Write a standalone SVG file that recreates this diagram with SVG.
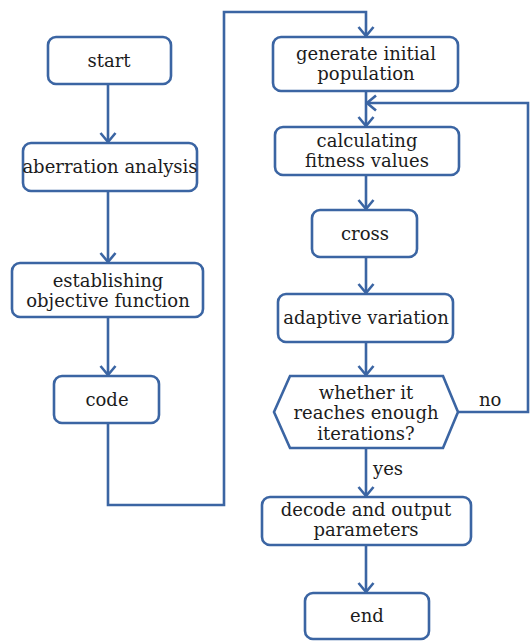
<svg xmlns="http://www.w3.org/2000/svg" width="532" height="641" viewBox="0 0 532 641">
<defs>
<style>
.box{fill:#fff;stroke:#3b65a3;stroke-width:2.6}
.ln{fill:none;stroke:#3b65a3;stroke-width:2.6}
.t{font-family:"DejaVu Serif","Liberation Serif",serif;font-size:18px;fill:#1c1c1c;text-anchor:middle}
.lbl{font-family:"DejaVu Serif","Liberation Serif",serif;font-size:18px;fill:#1c1c1c}
</style>
<marker id="ah" markerUnits="userSpaceOnUse" markerWidth="14" markerHeight="18" viewBox="0 0 14 18" refX="11" refY="9" orient="auto">
<path d="M2,1.5 L11,9 L2,16.5" fill="none" stroke="#3b65a3" stroke-width="2.6"/>
</marker>
</defs>
<rect width="532" height="641" fill="#fff"/>
<g id="connectors">
<line class="ln" x1="108" y1="84" x2="108" y2="142" marker-end="url(#ah)"/>
<line class="ln" x1="108" y1="191" x2="108" y2="262" marker-end="url(#ah)"/>
<line class="ln" x1="108" y1="317" x2="108" y2="375" marker-end="url(#ah)"/>
<path class="ln" d="M108,423 V505 H224 V12 H366 V36" marker-end="url(#ah)"/>
<line class="ln" x1="366" y1="91" x2="366" y2="126" marker-end="url(#ah)"/>
<path class="ln" d="M458,412 H528 V103 H367" marker-end="url(#ah)"/>
<line class="ln" x1="366" y1="175" x2="366" y2="209" marker-end="url(#ah)"/>
<line class="ln" x1="366" y1="257" x2="366" y2="293" marker-end="url(#ah)"/>
<line class="ln" x1="366" y1="342" x2="366" y2="375" marker-end="url(#ah)"/>
<line class="ln" x1="366" y1="448" x2="366" y2="496" marker-end="url(#ah)"/>
<line class="ln" x1="366" y1="545" x2="366" y2="592" marker-end="url(#ah)"/>
<text class="lbl" x="479" y="406">no</text>
<text class="lbl" x="373" y="475">yes</text>
</g>
<g id="start"><rect class="box" x="48" y="37" width="123" height="47" rx="8"/><text class="t" x="109" y="67">start</text></g>
<g id="aberration"><rect class="box" x="23" y="143" width="174" height="48" rx="8"/><text class="t" x="110" y="173">aberration analysis</text></g>
<g id="establishing"><rect class="box" x="12" y="263" width="191" height="54" rx="8"/><text class="t" x="108" y="287">establishing</text><text class="t" x="108" y="307">objective function</text></g>
<g id="code"><rect class="box" x="54" y="376" width="105" height="47" rx="8"/><text class="t" x="107" y="406">code</text></g>
<g id="generate"><rect class="box" x="273" y="37" width="185" height="54" rx="8"/><text class="t" x="366" y="60">generate initial</text><text class="t" x="366" y="80">population</text></g>
<g id="calculating"><rect class="box" x="275" y="127" width="184" height="48" rx="8"/><text class="t" x="367" y="147">calculating</text><text class="t" x="367" y="167">fitness values</text></g>
<g id="cross"><rect class="box" x="312" y="210" width="105" height="47" rx="8"/><text class="t" x="365" y="240">cross</text></g>
<g id="adaptive"><rect class="box" x="278" y="294" width="175" height="48" rx="8"/><text class="t" x="366" y="324">adaptive variation</text></g>
<g id="decision"><polygon class="box" points="274,412 290,376 443,376 458,412 443,448 290,448"/><text class="t" x="366" y="399">whether it</text><text class="t" x="366" y="419">reaches enough</text><text class="t" x="366" y="440">iterations?</text></g>
<g id="decode"><rect class="box" x="262" y="497" width="209" height="48" rx="8"/><text class="t" x="366" y="516">decode and output</text><text class="t" x="366" y="536">parameters</text></g>
<g id="end"><rect class="box" x="305" y="593" width="124" height="46" rx="8"/><text class="t" x="367" y="622">end</text></g>
</svg>
